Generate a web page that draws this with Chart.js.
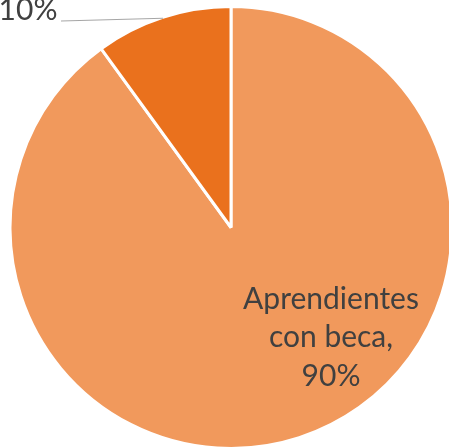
<!DOCTYPE html>
<html>
<head>
<meta charset="utf-8">
<script src="https://cdn.jsdelivr.net/npm/chart.js@4.4.0/dist/chart.umd.min.js"></script>
<style>
  html, body { margin: 0; padding: 0; background: #ffffff; }
  #wrap { width: 449px; height: 448px; position: relative; }
</style>
</head>
<body>
<div id="wrap"><canvas id="pieChart"></canvas></div>
<script>
// slice data
const categories = ['Aprendientes con beca', 'Aprendientes sin beca'];
const shares = [90, 10];
const sliceColors = ['rgb(241, 153, 92)', 'rgb(234, 113, 29)'];

var labelFont = '30px Lato, "Liberation Sans", sans-serif';
var labelColor = '#404040';

// writes the percent labels and the leader line for the small slice
const sliceLabels = {
    id: 'sliceLabels',
    afterDraw(chart) {
        const ctx = chart.ctx;
        const arcs = chart.getDatasetMeta(0).data;
        ctx.save();
        ctx.fillStyle = labelColor;
        ctx.font = labelFont;
        ctx.textAlign = 'center';
        ctx.textBaseline = 'alphabetic';

        // big slice: label inside, three lines
        const big = arcs[0];
        const bx = big.x + 100, by = big.y + 81;
        const lines = ['Aprendientes', 'con beca,', shares[0] + '%'];
        lines.forEach((t, i) => ctx.fillText(t, bx, by + i * 38.5));

        // small slice: label outside with leader line
        const small = arcs[1];
        const mid = (small.startAngle + small.endAngle) / 2;
        const r = small.outerRadius - 1;
        const ex = small.x + Math.cos(mid) * r;
        const ey = small.y + Math.sin(mid) * r;
        ctx.strokeStyle = '#a6a6a6';
        ctx.lineWidth = 1.2;
        ctx.beginPath();
        ctx.moveTo(61, 21);
        ctx.lineTo(ex, ey);
        ctx.stroke();
        ctx.fillText(shares[1] + '%', 28, 20);
        ctx.restore();
    }
};

new Chart(document.getElementById('pieChart'), {
    type: 'pie',
    data: {
        labels: categories,
        datasets: [{
            data: shares,
            backgroundColor: sliceColors,
            borderColor: '#ffffff',
            borderWidth: 3,
            radius: 221,
            clip: false
        }]
    },
    options: {
        responsive: true,
        maintainAspectRatio: false,
        animation: false,
        layout: {
            padding: { left: 13, right: 0, top: 7, bottom: 0 }
        },
        plugins: {
            legend: { display: false },
            tooltip: { enabled: false }
        }
    },
    plugins: [sliceLabels]
});
</script>
</body>
</html>
